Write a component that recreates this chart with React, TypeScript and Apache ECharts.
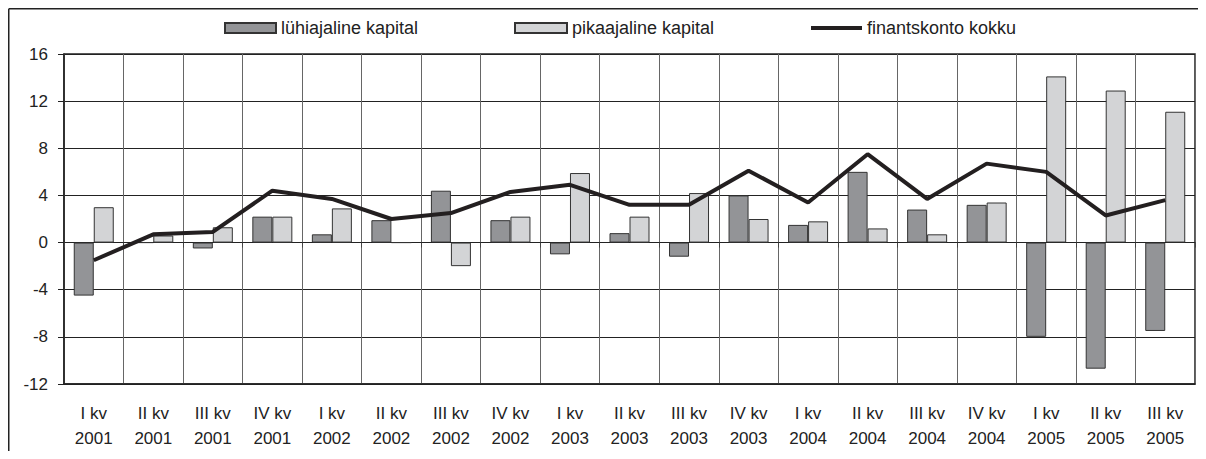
import React, { useEffect, useRef } from "react";
import * as echarts from "echarts";

const quarters = ["I kv", "II kv", "III kv", "IV kv", "I kv", "II kv", "III kv", "IV kv", "I kv", "II kv", "III kv", "IV kv", "I kv", "II kv", "III kv", "IV kv", "I kv", "II kv", "III kv"];
const years = ["2001", "2001", "2001", "2001", "2002", "2002", "2002", "2002", "2003", "2003", "2003", "2003", "2004", "2004", "2004", "2004", "2005", "2005", "2005"];
const categories = quarters.map((q, i) => q + "\n" + years[i]);

const shortTerm = [-4.5, 0, -0.5, 2.2, 0.7, 1.9, 4.4, 1.9, -1.0, 0.8, -1.2, 4.0, 1.5, 6.0, 2.8, 3.2, -8.0, -10.7, -7.5];
const longTerm = [3.0, 0.6, 1.3, 2.2, 2.9, 0, -2.0, 2.2, 5.9, 2.2, 4.2, 2.0, 1.8, 1.2, 0.7, 3.4, 14.1, 12.9, 11.1];
const financialTotal = [-1.5, 0.7, 0.9, 4.4, 3.7, 2.0, 2.5, 4.3, 4.9, 3.2, 3.2, 6.1, 3.4, 7.5, 3.7, 6.7, 6.0, 2.3, 3.6];

const names = ["lühiajaline kapital", "pikaajaline kapital", "finantskonto kokku"];

export default function App() {
  const ref = useRef<HTMLDivElement>(null);
  useEffect(() => {
    if (!ref.current) return;
    document.documentElement.style.overflow = "hidden";
    const chart = echarts.init(ref.current, undefined, { renderer: "svg" });
    const font = "'Liberation Sans', Arial, sans-serif";
    const legendText = { fontSize: 18, color: "#222", fontFamily: font };
    chart.setOption({
      animation: false,
      textStyle: { fontFamily: font },
      graphic: [
        { type: "line", shape: { x1: 0.75, y1: 0.75, x2: 1198, y2: 0.75 }, style: { stroke: "#222", lineWidth: 1.5 } },
        { type: "line", shape: { x1: 0.75, y1: 0.75, x2: 0.75, y2: 443 }, style: { stroke: "#222", lineWidth: 1.5 } },
      ],
      legend: [
        {
          left: 216, top: 11, padding: 0, itemWidth: 51, itemHeight: 10,
          textStyle: legendText,
          data: [{ name: names[0], icon: "rect" }],
        },
        {
          left: 506, top: 11, padding: 0, itemWidth: 52, itemHeight: 10,
          textStyle: legendText,
          data: [{ name: names[1], icon: "rect" }],
        },
        {
          left: 803, top: 11, padding: 0, itemWidth: 51, itemHeight: 4,
          textStyle: legendText,
          data: [{ name: names[2], icon: "rect" }],
        },
      ],
      grid: { left: 56, right: 11, top: 46, bottom: 63, show: true, borderColor: "#222", borderWidth: 1.5, backgroundColor: "transparent" },
      xAxis: [
        {
          type: "category",
          data: categories,
          boundaryGap: true,
          position: "bottom",
          axisLine: { onZero: false, lineStyle: { color: "#222", width: 1.5 } },
          axisTick: { show: false },
          axisLabel: { fontSize: 17, color: "#222", lineHeight: 25, margin: 17, interval: 0, fontFamily: font },
          splitLine: { show: true, interval: 0, lineStyle: { color: "#666", width: 1 } },
        },
        {
          type: "category",
          data: categories,
          boundaryGap: true,
          position: "bottom",
          axisLine: { onZero: true, lineStyle: { color: "#222", width: 1.2 } },
          axisTick: { show: true, interval: 0, length: 5, lineStyle: { color: "#444" } },
          axisLabel: { show: false },
          splitLine: { show: false },
        },
      ],
      yAxis: {
        type: "value",
        min: -12,
        max: 16,
        interval: 4,
        axisLine: { show: true, lineStyle: { color: "#222", width: 1.5 } },
        axisTick: { show: true, length: 6, lineStyle: { color: "#222" } },
        axisLabel: { fontSize: 17, color: "#222", margin: 16, fontFamily: font },
        splitLine: { show: true, lineStyle: { color: "#222", width: 1 } },
      },
      series: [
        {
          name: names[0],
          type: "bar",
          data: shortTerm,
          barWidth: 20,
          barGap: "0%",
          itemStyle: { color: "#939497", borderColor: "#333", borderWidth: 1 },
        },
        {
          name: names[1],
          type: "bar",
          data: longTerm,
          barWidth: 20,
          barGap: "0%",
          itemStyle: { color: "#d3d4d6", borderColor: "#333", borderWidth: 1 },
        },
        {
          name: names[2],
          type: "line",
          data: financialTotal,
          symbol: "none",
          lineStyle: { color: "#231f20", width: 4 },
          itemStyle: { color: "#231f20" },
          z: 5,
        },
      ],
    });
    return () => chart.dispose();
  }, []);
  return <div ref={ref} style={{ width: 1198, height: 443, overflow: "hidden" }} />;
}
